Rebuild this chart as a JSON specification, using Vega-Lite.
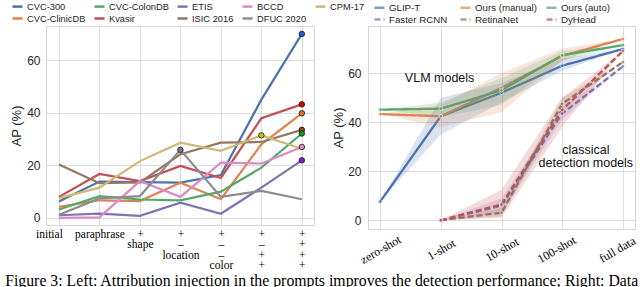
{
  "$schema": "https://vega.github.io/schema/vega-lite/v6.json",
  "padding": {"left": 5, "top": -1, "right": 0, "bottom": 0},
  "spacing": 54,
  "bounds": "flush",
  "resolve": {"scale": {"color": "independent", "fill": "independent", "strokeDash": "independent"}, "legend": {"color": "independent", "fill": "independent", "strokeDash": "independent"}},
  "datasets": {
    "left": [
      {"dataset": "CVC-300", "step": 0, "ap": 6.2}, {"dataset": "CVC-300", "step": 1, "ap": 13.8}, {"dataset": "CVC-300", "step": 2, "ap": 13.6}, {"dataset": "CVC-300", "step": 3, "ap": 13.4}, {"dataset": "CVC-300", "step": 4, "ap": 16.3}, {"dataset": "CVC-300", "step": 5, "ap": 45}, {"dataset": "CVC-300", "step": 6, "ap": 70},
      {"dataset": "CVC-ClinicDB", "step": 0, "ap": 4.2}, {"dataset": "CVC-ClinicDB", "step": 1, "ap": 6.7}, {"dataset": "CVC-ClinicDB", "step": 2, "ap": 6.4}, {"dataset": "CVC-ClinicDB", "step": 3, "ap": 13.4}, {"dataset": "CVC-ClinicDB", "step": 4, "ap": 7.1}, {"dataset": "CVC-ClinicDB", "step": 5, "ap": 28}, {"dataset": "CVC-ClinicDB", "step": 6, "ap": 39.8},
      {"dataset": "CVC-ColonDB", "step": 0, "ap": 3.2}, {"dataset": "CVC-ColonDB", "step": 1, "ap": 8.3}, {"dataset": "CVC-ColonDB", "step": 2, "ap": 7}, {"dataset": "CVC-ColonDB", "step": 3, "ap": 6.7}, {"dataset": "CVC-ColonDB", "step": 4, "ap": 10}, {"dataset": "CVC-ColonDB", "step": 5, "ap": 19.1}, {"dataset": "CVC-ColonDB", "step": 6, "ap": 32.1},
      {"dataset": "Kvasir", "step": 0, "ap": 8}, {"dataset": "Kvasir", "step": 1, "ap": 16.7}, {"dataset": "Kvasir", "step": 2, "ap": 14}, {"dataset": "Kvasir", "step": 3, "ap": 19.8}, {"dataset": "Kvasir", "step": 4, "ap": 15.2}, {"dataset": "Kvasir", "step": 5, "ap": 37.9}, {"dataset": "Kvasir", "step": 6, "ap": 43.2},
      {"dataset": "ETIS", "step": 0, "ap": 1.0}, {"dataset": "ETIS", "step": 1, "ap": 1.6}, {"dataset": "ETIS", "step": 2, "ap": 0.8}, {"dataset": "ETIS", "step": 3, "ap": 5.8}, {"dataset": "ETIS", "step": 4, "ap": 1.6}, {"dataset": "ETIS", "step": 5, "ap": 11.5}, {"dataset": "ETIS", "step": 6, "ap": 21.9},
      {"dataset": "ISIC 2016", "step": 0, "ap": 20.3}, {"dataset": "ISIC 2016", "step": 1, "ap": 13.2}, {"dataset": "ISIC 2016", "step": 2, "ap": 13.5}, {"dataset": "ISIC 2016", "step": 3, "ap": 24.2}, {"dataset": "ISIC 2016", "step": 4, "ap": 28.6}, {"dataset": "ISIC 2016", "step": 5, "ap": 28.9}, {"dataset": "ISIC 2016", "step": 6, "ap": 33.5},
      {"dataset": "BCCD", "step": 0, "ap": 0}, {"dataset": "BCCD", "step": 1, "ap": 0.2}, {"dataset": "BCCD", "step": 2, "ap": 14}, {"dataset": "BCCD", "step": 3, "ap": 8}, {"dataset": "BCCD", "step": 4, "ap": 21}, {"dataset": "BCCD", "step": 5, "ap": 20.7}, {"dataset": "BCCD", "step": 6, "ap": 27},
      {"dataset": "DFUC 2020", "step": 0, "ap": 1.2}, {"dataset": "DFUC 2020", "step": 1, "ap": 7.4}, {"dataset": "DFUC 2020", "step": 2, "ap": 8.3}, {"dataset": "DFUC 2020", "step": 3, "ap": 25.9}, {"dataset": "DFUC 2020", "step": 4, "ap": 8}, {"dataset": "DFUC 2020", "step": 5, "ap": 10.3}, {"dataset": "DFUC 2020", "step": 6, "ap": 7.1},
      {"dataset": "CPM-17", "step": 0, "ap": 7.5}, {"dataset": "CPM-17", "step": 1, "ap": 11.5}, {"dataset": "CPM-17", "step": 2, "ap": 21.6}, {"dataset": "CPM-17", "step": 3, "ap": 28.6}, {"dataset": "CPM-17", "step": 4, "ap": 25.5}, {"dataset": "CPM-17", "step": 5, "ap": 31.4}, {"dataset": "CPM-17", "step": 6, "ap": 26.3}
    ],
    "leftmarks": [
      {"dataset": "CVC-300", "step": 6, "ap": 70},
      {"dataset": "Kvasir", "step": 6, "ap": 43.2},
      {"dataset": "CVC-ClinicDB", "step": 6, "ap": 39.8},
      {"dataset": "ISIC 2016", "step": 6, "ap": 33.5},
      {"dataset": "CVC-ColonDB", "step": 6, "ap": 32.1},
      {"dataset": "BCCD", "step": 6, "ap": 27},
      {"dataset": "ETIS", "step": 6, "ap": 21.9},
      {"dataset": "CPM-17", "step": 5, "ap": 31.4},
      {"dataset": "DFUC 2020", "step": 3, "ap": 25.9}
    ],
    "right": [
      {"model": "GLIP-T", "shot": 0, "ap": 7.6}, {"model": "GLIP-T", "shot": 1, "ap": 42.4}, {"model": "GLIP-T", "shot": 2, "ap": 52}, {"model": "GLIP-T", "shot": 3, "ap": 63}, {"model": "GLIP-T", "shot": 4, "ap": 69.8},
      {"model": "Ours (manual)", "shot": 0, "ap": 43.3}, {"model": "Ours (manual)", "shot": 1, "ap": 42.4}, {"model": "Ours (manual)", "shot": 2, "ap": 54}, {"model": "Ours (manual)", "shot": 3, "ap": 67}, {"model": "Ours (manual)", "shot": 4, "ap": 73.9},
      {"model": "Ours (auto)", "shot": 0, "ap": 45.1}, {"model": "Ours (auto)", "shot": 1, "ap": 45.5}, {"model": "Ours (auto)", "shot": 2, "ap": 53}, {"model": "Ours (auto)", "shot": 3, "ap": 67.3}, {"model": "Ours (auto)", "shot": 4, "ap": 71.4},
      {"model": "Faster RCNN", "shot": 1, "ap": 0}, {"model": "Faster RCNN", "shot": 2, "ap": 6}, {"model": "Faster RCNN", "shot": 3, "ap": 43.5}, {"model": "Faster RCNN", "shot": 4, "ap": 62.7},
      {"model": "RetinaNet", "shot": 1, "ap": 0}, {"model": "RetinaNet", "shot": 2, "ap": 3.1}, {"model": "RetinaNet", "shot": 3, "ap": 47.5}, {"model": "RetinaNet", "shot": 4, "ap": 64.5},
      {"model": "DyHead", "shot": 1, "ap": 0}, {"model": "DyHead", "shot": 2, "ap": 6.5}, {"model": "DyHead", "shot": 3, "ap": 45}, {"model": "DyHead", "shot": 4, "ap": 69}
    ],
    "bands": [
      {"model": "GLIP-T", "shot": 0, "lo": 7.6, "hi": 7.6}, {"model": "GLIP-T", "shot": 1, "lo": 35, "hi": 50}, {"model": "GLIP-T", "shot": 2, "lo": 48, "hi": 56}, {"model": "GLIP-T", "shot": 3, "lo": 61, "hi": 66}, {"model": "GLIP-T", "shot": 4, "lo": 69.8, "hi": 69.8},
      {"model": "Ours (manual)", "shot": 0, "lo": 43.3, "hi": 43.3}, {"model": "Ours (manual)", "shot": 1, "lo": 38, "hi": 47}, {"model": "Ours (manual)", "shot": 2, "lo": 44, "hi": 60}, {"model": "Ours (manual)", "shot": 3, "lo": 65, "hi": 70}, {"model": "Ours (manual)", "shot": 4, "lo": 73.9, "hi": 73.9},
      {"model": "Ours (auto)", "shot": 0, "lo": 45.1, "hi": 45.1}, {"model": "Ours (auto)", "shot": 1, "lo": 42, "hi": 48}, {"model": "Ours (auto)", "shot": 2, "lo": 47, "hi": 58}, {"model": "Ours (auto)", "shot": 3, "lo": 65, "hi": 69}, {"model": "Ours (auto)", "shot": 4, "lo": 71.4, "hi": 71.4},
      {"model": "Faster RCNN", "shot": 1, "lo": 0, "hi": 0}, {"model": "Faster RCNN", "shot": 2, "lo": 3, "hi": 9}, {"model": "Faster RCNN", "shot": 3, "lo": 41, "hi": 46}, {"model": "Faster RCNN", "shot": 4, "lo": 62.7, "hi": 62.7},
      {"model": "RetinaNet", "shot": 1, "lo": 0, "hi": 0}, {"model": "RetinaNet", "shot": 2, "lo": 1.5, "hi": 5}, {"model": "RetinaNet", "shot": 3, "lo": 45, "hi": 50}, {"model": "RetinaNet", "shot": 4, "lo": 64.5, "hi": 64.5},
      {"model": "DyHead", "shot": 1, "lo": 0, "hi": 0}, {"model": "DyHead", "shot": 2, "lo": 1, "hi": 12.5}, {"model": "DyHead", "shot": 3, "lo": 38, "hi": 50}, {"model": "DyHead", "shot": 4, "lo": 69, "hi": 69}
    ],
    "notes": [
      {"shot": 0.98, "ap": 58, "label": "VLM models"},
      {"shot": 3.39, "ap": 28.7, "label": "classical"},
      {"shot": 3.39, "ap": 23.3, "label": "detection models"}
    ]
  },
  "title": {
    "text": "Figure 3: Left: Attribution injection in the prompts improves the detection performance; Right: Data",
    "orient": "bottom", "anchor": "start", "frame": "bounds", "dx": -5, "offset": 2,
    "font": "Liberation Serif", "fontSize": 15.8, "fontWeight": "normal", "color": "#000000", "limit": 0
  },
  "hconcat": [
    {
      "width": 268, "height": 199,
      "layer": [
        {
          "data": {"name": "left"},
          "mark": {"type": "line", "strokeWidth": 2.2},
          "encoding": {
            "x": {"field": "step", "type": "quantitative",
              "scale": {"domain": [-0.32, 6.3], "nice": false, "zero": false},
              "axis": {"title": null, "values": [0, 1, 2, 3, 4, 5, 6], "labelFont": "Liberation Serif", "labelFontSize": 11.5, "labelLineHeight": 10.5, "labelColor": "#000000", "labelPadding": 3, "labelFlush": false, "labelOverlap": false, "labelBaseline": "top",
                "labelOffset": {"condition": {"test": "datum.value == 0", "value": -10}, "value": 0},
                "labelExpr": "[['initial'],['paraphrase'],['+','shape'],['+','–','location'],['+','–','–','color'],['+','–','+','+'],['+','+','+','+']][datum.value]"}},
            "y": {"field": "ap", "type": "quantitative",
              "scale": {"domain": [-2.7, 73], "nice": false, "zero": false},
              "axis": {"title": "AP (%)", "values": [0, 10, 20, 30, 40, 50, 60, 70], "labelPadding": 6, "titlePadding": 3, "labelFlush": false}},
            "color": {"field": "dataset", "type": "nominal",
              "scale": {"domain": ["CVC-300", "CVC-ColonDB", "ETIS", "BCCD", "CPM-17", "CVC-ClinicDB", "Kvasir", "ISIC 2016", "DFUC 2020"],
                "range": ["#4c72b0", "#55a868", "#8172b3", "#da8bc3", "#ccb974", "#dd8452", "#c44e52", "#937860", "#8c8c8c"]},
              "legend": {"orient": "none", "legendX": -35, "legendY": -26, "direction": "horizontal", "columns": 5, "title": null, "symbolType": "stroke", "symbolSize": 100, "symbolStrokeWidth": 2.5, "labelFontSize": 9.3, "labelOffset": 3, "columnPadding": 3, "rowPadding": 0, "gridAlign": "each"}}
          }
        },
        {
          "data": {"name": "leftmarks"},
          "mark": {"type": "point", "filled": true, "size": 30, "stroke": "#111111", "strokeWidth": 0.8, "opacity": 1},
          "encoding": {
            "x": {"field": "step", "type": "quantitative"},
            "y": {"field": "ap", "type": "quantitative"},
            "fill": {"field": "dataset", "type": "nominal", "legend": null,
              "scale": {"domain": ["CVC-300", "CVC-ColonDB", "ETIS", "BCCD", "CPM-17", "CVC-ClinicDB", "Kvasir", "ISIC 2016", "DFUC 2020"],
                "range": ["#1f5fd0", "#10a010", "#7a1fd6", "#e58ac9", "#c8c400", "#e8720c", "#d40000", "#8a4a10", "#808080"]}}
          }
        }
      ]
    },
    {
      "width": 267, "height": 203,
      "layer": [
        {
          "data": {"name": "right"},
          "mark": {"type": "line", "strokeWidth": 2.3},
          "encoding": {
            "x": {"field": "shot", "type": "quantitative",
              "scale": {"domain": [-0.2, 4.2], "nice": false, "zero": false},
              "axis": {"title": null, "values": [0, 1, 2, 3, 4], "labelFont": "Liberation Serif", "labelFontSize": 12, "labelColor": "#000000", "labelAngle": -30, "labelAlign": "center", "labelBaseline": "middle", "labelPadding": 20, "labelFlush": false, "labelOverlap": false,
                "labelOffset": {"condition": {"test": "datum.value >= 3", "value": -6}, "value": 0},
                "labelExpr": "['zero-shot','1-shot','10-shot','100-shot','full data'][datum.value]"}},
            "y": {"field": "ap", "type": "quantitative",
              "scale": {"domain": [-3.55, 79.2], "nice": false, "zero": false},
              "axis": {"title": "AP (%)", "values": [0, 10, 20, 30, 40, 50, 60, 70], "labelPadding": 7, "titlePadding": 2, "labelFlush": false}},
            "color": {"field": "model", "type": "nominal",
              "scale": {"domain": ["GLIP-T", "Ours (manual)", "Ours (auto)", "Faster RCNN", "RetinaNet", "DyHead"],
                "range": ["#4c72b0", "#dd8452", "#55a868", "#8172b3", "#937860", "#c44e52"]},
              "legend": {"orient": "none", "legendX": 5, "legendY": -25, "direction": "horizontal", "columns": 3, "title": null, "symbolType": "stroke", "symbolSize": 100, "symbolStrokeWidth": 2.5, "symbolOpacity": 1, "labelFontSize": 9.7, "labelOffset": 3, "columnPadding": 4, "rowPadding": 0, "gridAlign": "all"}},
            "strokeDash": {"field": "model", "type": "nominal",
              "scale": {"domain": ["GLIP-T", "Ours (manual)", "Ours (auto)", "Faster RCNN", "RetinaNet", "DyHead"],
                "range": [[1, 0], [1, 0], [1, 0], [6, 3], [6, 3], [6, 3]]},
              "legend": {"orient": "none", "legendX": 5, "legendY": -25, "direction": "horizontal", "columns": 3, "title": null, "symbolType": "stroke", "symbolSize": 100, "symbolStrokeWidth": 2.5, "symbolOpacity": 1, "labelFontSize": 9.7, "labelOffset": 3, "columnPadding": 4, "rowPadding": 0, "gridAlign": "all"}}
          }
        },
        {
          "data": {"name": "bands"},
          "mark": {"type": "area", "fillOpacity": 0.2},
          "encoding": {
            "x": {"field": "shot", "type": "quantitative"},
            "y": {"field": "lo", "type": "quantitative"},
            "y2": {"field": "hi"},
            "color": {"field": "model", "type": "nominal"}
          }
        },
        {
          "data": {"name": "right"},
          "mark": {"type": "point", "filled": true, "size": 14, "stroke": "#ffffff", "strokeWidth": 0.7},
          "encoding": {
            "x": {"field": "shot", "type": "quantitative"},
            "y": {"field": "ap", "type": "quantitative"},
            "color": {"field": "model", "type": "nominal"}
          }
        },
        {
          "data": {"name": "notes"},
          "mark": {"type": "text", "font": "Liberation Sans", "fontSize": 12.5, "color": "#111111", "align": "center", "baseline": "middle"},
          "encoding": {
            "x": {"field": "shot", "type": "quantitative"},
            "y": {"field": "ap", "type": "quantitative"},
            "text": {"field": "label"}
          }
        }
      ]
    }
  ],
  "config": {
    "background": "white",
    "view": {"stroke": "#d6d6d6", "strokeWidth": 1},
    "axis": {"grid": true, "gridColor": "#dcdcdc", "gridWidth": 1, "domain": false, "ticks": false,
      "labelFont": "Liberation Sans", "labelFontSize": 12, "labelColor": "#262626",
      "titleFont": "Liberation Sans", "titleFontSize": 13, "titleFontWeight": "normal", "titleColor": "#262626"},
    "legend": {"labelFont": "Liberation Sans", "labelColor": "#262626", "padding": 0}
  }
}
